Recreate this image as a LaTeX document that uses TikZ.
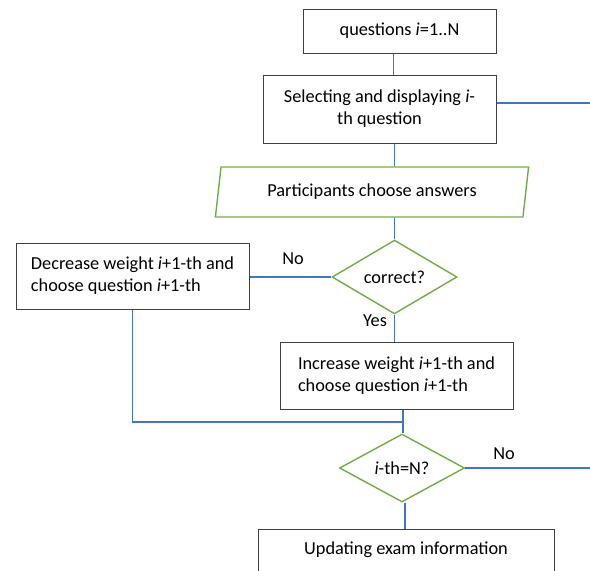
\documentclass[tikz,border=0pt]{standalone}
\usepackage{fontspec}
\setmainfont{Carlito}
\usetikzlibrary{shapes.geometric}
\definecolor{lineblue}{HTML}{4472C4}
\definecolor{shapegreen}{HTML}{70AD47}
\definecolor{boxgray}{HTML}{404040}
\begin{document}
\begin{tikzpicture}[x=1pt,y=-1pt,
  every node/.style={font=\fontsize{18.3}{22}\selectfont, inner sep=0pt},
  procbox/.style={draw=boxgray, line width=1pt, fill=white},
  decision/.style={draw=shapegreen, line width=1.4pt, diamond, minimum width=125pt, minimum height=68pt, inner sep=0pt},
  iobox/.style={draw=shapegreen, line width=1.4pt, trapezium, trapezium left angle=76, trapezium right angle=104, trapezium stretches=true, minimum width=314pt, minimum height=50pt},
  link/.style={draw=lineblue, line width=1.4pt},
  lbl/.style={font=\fontsize{18.3}{22}\selectfont}]
\useasboundingbox (0,0) rectangle (590,571);
\clip (0,0) rectangle (590,571);
\fill[white] (0,0) rectangle (590,571);

\node[procbox, minimum width=193pt, minimum height=44pt] (box1) at (399.5,31) {questions \textit{i}=1..N};
\node[procbox, minimum width=233pt, minimum height=68pt, align=center] (box2) at (379.5,109) {Selecting and displaying \textit{i}-\\th question};
\node[iobox] (para) at (372,192) {Participants choose answers};
\node[decision] (d1) at (394.5,277) {correct?};
\node[procbox, minimum width=233pt, minimum height=66pt, align=left] (box3) at (132.5,276) {Decrease weight \textit{i}+1-th and\\choose question \textit{i}+1-th};
\node[procbox, minimum width=233pt, minimum height=67pt, align=left] (box4) at (396.5,375.5) {Increase weight \textit{i}+1-th and\\choose question \textit{i}+1-th};
\node[decision] (d2) at (402,468) {\textit{i}-th=N?};
\node[procbox, minimum width=296pt, minimum height=60pt, text height=13pt, text depth=22pt] (box5) at (406,559) {Updating exam information};

\coordinate (rightA) at (590,103);
\coordinate (rightB) at (590,468);
\coordinate (join) at (403,422);

\draw[link] ([xshift=-6pt]box1.south) -- ([xshift=-6pt]box1.south |- box2.north);
\draw[link] (box2.east |- rightA) -- (rightA);
\draw[link] (box2.south -| d1) -- (para.north -| d1);
\draw[link] (para.south -| d1) -- (d1.north);
\draw[link] (d1.west) -- (d1.west -| box3.east);
\draw[link] (d1.south) -- (d1.south |- box4.north);
\draw[link] (box3.south) |- (join);
\draw[link] (box4.south -| join) -- (d2.north -| join);
\draw[link] (d2.east) -- (rightB);
\draw[link] ([xshift=3pt]d2.south) -- ([xshift=3pt]d2.south |- box5.north);

\node[lbl] (no1) at (293,259) {No};
\node[lbl] (yes1) at (375,321) {Yes};
\node[lbl] (no2) at (504,454) {No};
\end{tikzpicture}
\end{document}
